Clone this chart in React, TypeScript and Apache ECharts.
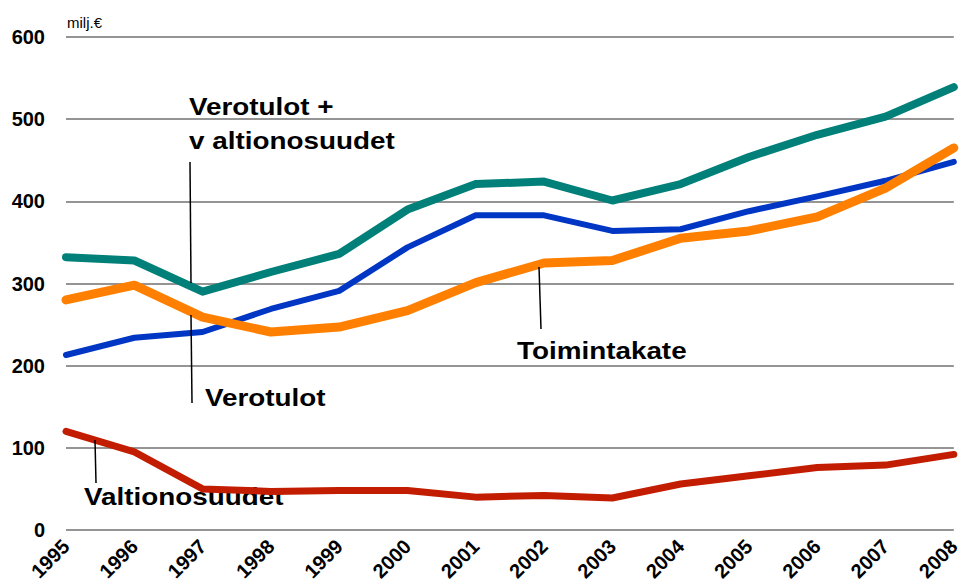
import React, { useEffect, useRef } from "react";
import * as echarts from "echarts";

const years = ["1995","1996","1997","1998","1999","2000","2001","2002","2003","2004","2005","2006","2007","2008"];
const verotulotValtionosuudet = [332, 328, 290, 314, 336, 390, 421, 424, 401, 421, 454, 481, 503, 539];
const toimintakate = [280, 298, 259, 241, 247, 267, 301, 325, 328, 355, 364, 381, 416, 465];
const verotulot = [213, 234, 241, 269, 291, 344, 383, 383, 364, 366, 388, 406, 425, 448];
const valtionosuudet = [120, 95, 50, 47, 48, 48, 40, 42, 39, 56, 66, 76, 79, 92];

const FONT = "'Liberation Sans', Arial, sans-serif";

export default function App() {
  const ref = useRef<HTMLDivElement>(null);
  useEffect(() => {
    if (!ref.current) return;
    const chart = echarts.init(ref.current, undefined, { renderer: "svg" });
    const mk = (name: string, data: number[], color: string, width: number, z: number) => ({
      name,
      type: "line",
      data,
      symbol: "none",
      z,
      lineStyle: { color, width, cap: "round", join: "round" },
    });
    const lbl = (x: number, y: number, text: string) => ({
      type: "text",
      x,
      y,
      scaleX: 1.16,
      style: { text, font: `bold 24px ${FONT}`, fill: "#000", textVerticalAlign: "middle" },
    });
    const ln = (x1: number, y1: number, x2: number, y2: number) => ({
      type: "line",
      shape: { x1, y1, x2, y2 },
      style: { stroke: "#000", lineWidth: 1.5 },
      z: 100,
    });
    chart.setOption({
      animation: false,
      grid: { left: 66, right: 6, top: 37, bottom: 57, containLabel: false },
      xAxis: {
        type: "category",
        data: years,
        boundaryGap: false,
        axisLine: { show: false },
        axisTick: { show: false },
        axisLabel: {
          rotate: 45,
          margin: 13,
          interval: 0,
          color: "#000",
          fontWeight: "bold",
          fontSize: 20,
          fontFamily: FONT,
        },
        splitLine: { show: false },
      },
      yAxis: {
        type: "value",
        min: 0,
        max: 600,
        interval: 100,
        axisLine: { show: false },
        axisTick: { show: false },
        axisLabel: {
          color: "#000",
          fontWeight: "bold",
          fontSize: 20,
          fontFamily: FONT,
          margin: 21,
        },
        splitLine: { show: true, lineStyle: { color: "#707070", width: 1.5 } },
      },
      series: [
        mk("Valtionosuudet", valtionosuudet, "#C21D00", 7, 2),
        mk("Verotulot", verotulot, "#0036C4", 6, 3),
        mk("Toimintakate", toimintakate, "#FF8000", 9, 4),
        mk("Verotulot + valtionosuudet", verotulotValtionosuudet, "#008078", 8, 5),
      ],
      graphic: [
        { type: "text", x: 67, y: 22, style: { text: "milj.€", font: `15px ${FONT}`, fill: "#000", textVerticalAlign: "middle" } },
        lbl(189, 107, "Verotulot +"),
        lbl(189, 141, "v altionosuudet"),
        ln(190, 162, 191, 283),
        lbl(205, 398, "Verotulot"),
        ln(191, 315, 192, 403),
        lbl(517, 351, "Toimintakate"),
        ln(539, 267, 541, 329),
        lbl(84, 497, "Valtionosuudet"),
        ln(95, 440, 96, 483),
      ],
    });
    return () => chart.dispose();
  }, []);
  return <div ref={ref} style={{ width: 963, height: 587, position: "absolute", left: 0, top: 0 }} />;
}
